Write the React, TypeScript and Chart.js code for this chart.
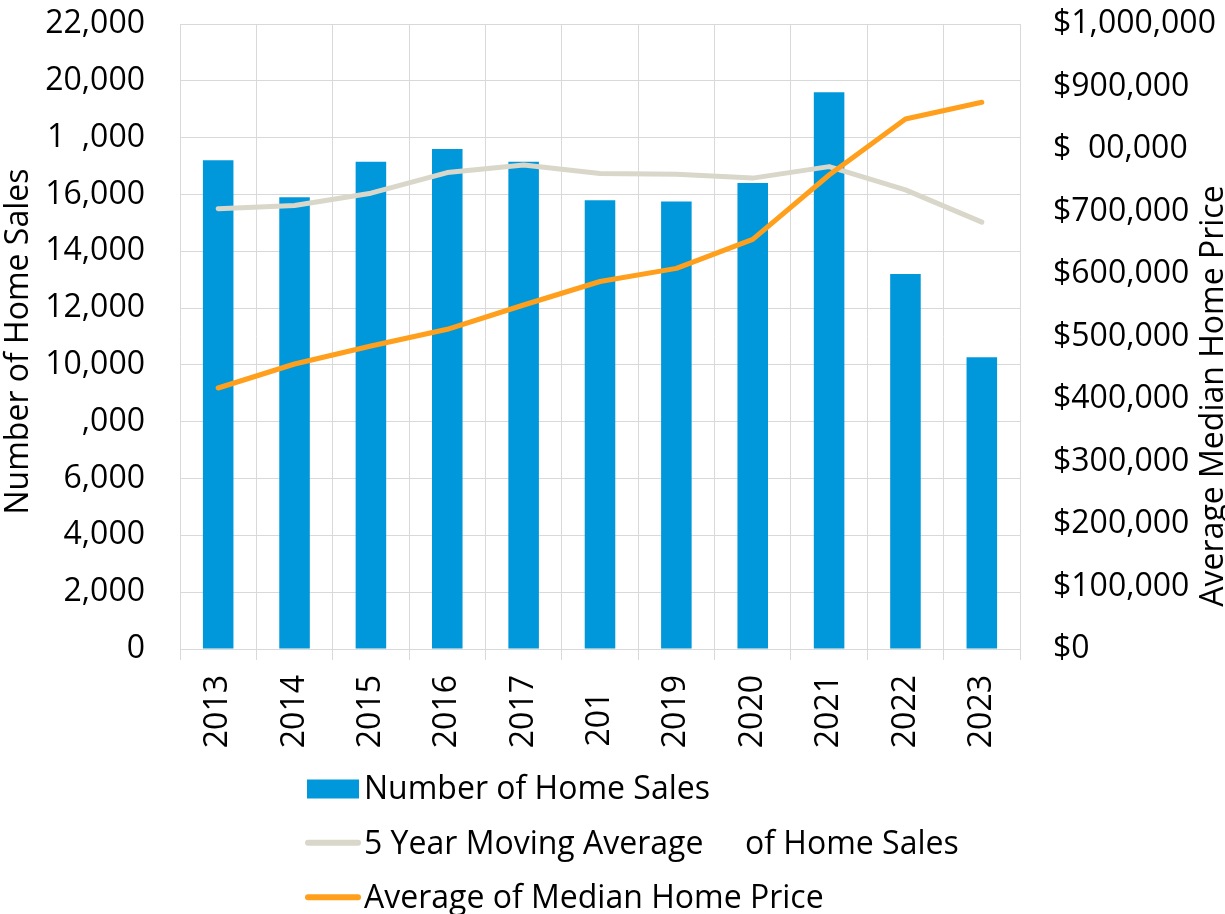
import React, { useEffect, useRef } from "react";
import { Chart, registerables } from "chart.js";

Chart.register(...registerables);

// ---- data ----
const years = ["2013", "2014", "2015", "2016", "2017", "201  ", "2019", "2020", "2021", "2022", "2023"];
const homeSales = [17200, 15900, 17150, 17600, 17150, 15800, 15750, 16400, 19600, 13200, 10270];
const movingAverage = [15500, 15610, 16045, 16770, 17040, 16740, 16715, 16575, 16980, 16160, 15025];
const medianPrice = [417600, 456000, 484800, 511500, 550400, 588000, 609000, 655500, 758400, 848000, 874700];

const leftTickLabels = ["0", "2,000", "4,000", "6,000", ",000", "10,000", "12,000", "14,000", "16,000", "1  ,000", "20,000", "22,000"];
const rightTickLabels = ["$0", "$100,000", "$200,000", "$300,000", "$400,000", "$500,000", "$600,000", "$700,000", "$  00,000", "$900,000", "$1,000,000"];

const seriesNames = ["Number of Home Sales", "5 Year Moving Average     of Home Sales", "Average of Median Home Price"];
const leftTitle = "Number of Home Sales";
const rightTitle = "Average Median Home Price";

// ---- styles ----
const FONT_FAMILY = "'Open Sans', 'Noto Sans', sans-serif";
const FONT_SIZE = 32;
const BLUE = "#0098DA";
const GREY = "#D9D6CA";
const ORANGE = "#FF9F1C";
const GRID = "#D9D9D9";
const TEXT = "#000000";

const overlayPlugin = {
  id: "overlayText",
  afterDraw(chart: any) {
    const ctx = chart.ctx as CanvasRenderingContext2D;
    ctx.save();
    ctx.font = `${FONT_SIZE}px ${FONT_FAMILY}`;
    ctx.fillStyle = TEXT;
    ctx.textBaseline = "alphabetic";

    // axis titles (rotated, reading bottom to top)
    ctx.textAlign = "center";
    ctx.save();
    ctx.translate(27.5, 341.5);
    ctx.rotate(-Math.PI / 2);
    ctx.fillText(leftTitle, 0, 0);
    ctx.restore();

    ctx.save();
    ctx.translate(1223, 396);
    ctx.rotate(-Math.PI / 2);
    ctx.fillText(rightTitle, 0, 0);
    ctx.restore();

    // legend
    const baselines = [799.3, 853.6, 907.9];
    const textX = 364;
    ctx.textAlign = "left";
    ctx.fillStyle = BLUE;
    ctx.fillRect(307, 779.5, 52, 19);
    ctx.lineCap = "round";
    ctx.lineWidth = 6;
    ctx.strokeStyle = GREY;
    ctx.beginPath();
    ctx.moveTo(308, 842.7);
    ctx.lineTo(358, 842.7);
    ctx.stroke();
    ctx.strokeStyle = ORANGE;
    ctx.beginPath();
    ctx.moveTo(308, 897.3);
    ctx.lineTo(358, 897.3);
    ctx.stroke();

    ctx.fillStyle = TEXT;
    seriesNames.forEach((name, i) => {
      ctx.fillText(name, textX, baselines[i]);
    });
    ctx.restore();
  },
};

export default function App() {
  const canvasRef = useRef<HTMLCanvasElement | null>(null);

  useEffect(() => {
    const canvas = canvasRef.current;
    if (!canvas) return;
    const font = { family: FONT_FAMILY, size: FONT_SIZE };

    const chart = new Chart(canvas, {
      type: "bar",
      data: {
        labels: years,
        datasets: [
          {
            type: "bar",
            label: seriesNames[0],
            data: homeSales,
            backgroundColor: BLUE,
            borderWidth: 0,
            barPercentage: 0.4,
            categoryPercentage: 1.0,
            yAxisID: "y",
            order: 3,
          },
          {
            type: "line",
            label: seriesNames[1],
            data: movingAverage,
            borderColor: GREY,
            backgroundColor: GREY,
            borderWidth: 5,
            pointRadius: 0,
            borderCapStyle: "round",
            borderJoinStyle: "round",
            tension: 0,
            yAxisID: "y",
            order: 2,
          },
          {
            type: "line",
            label: seriesNames[2],
            data: medianPrice,
            borderColor: ORANGE,
            backgroundColor: ORANGE,
            borderWidth: 5,
            pointRadius: 0,
            borderCapStyle: "round",
            borderJoinStyle: "round",
            tension: 0,
            yAxisID: "y1",
            order: 1,
          },
        ] as any,
      },
      options: {
        responsive: false,
        animation: false,
        devicePixelRatio: 1,
        layout: { padding: { top: 24, left: 0, right: 0, bottom: 0 } },
        plugins: {
          legend: { display: false },
          tooltip: { enabled: false },
          title: { display: false },
        },
        scales: {
          x: {
            type: "category",
            offset: true,
            grid: {
              offset: true,
              color: GRID,
              lineWidth: 1,
              tickLength: 11,
              drawTicks: true,
              tickColor: GRID,
            },
            border: { color: GRID, width: 1 },
            ticks: {
              minRotation: 90,
              maxRotation: 90,
              autoSkip: false,
              padding: 15,
              color: TEXT,
              font,
            },
            afterFit: (scale: any) => {
              scale.height = 914 - 649;
              scale.paddingLeft = 0;
              scale.paddingRight = 0;
            },
          },
          y: {
            type: "linear",
            position: "left",
            min: 0,
            max: 22000,
            grid: { color: GRID, lineWidth: 1, drawTicks: false },
            border: { display: false },
            ticks: {
              stepSize: 2000,
              padding: 35,
              color: TEXT,
              font,
              callback: (value: any) => leftTickLabels[Math.round(Number(value) / 2000)],
            },
            afterFit: (scale: any) => {
              scale.width = 180;
              scale.paddingTop = 0;
              scale.paddingBottom = 0;
            },
          },
          y1: {
            type: "linear",
            position: "right",
            min: 0,
            max: 1000000,
            grid: { drawOnChartArea: false, drawTicks: false },
            border: { display: false },
            ticks: {
              stepSize: 100000,
              padding: 33,
              color: TEXT,
              font,
              callback: (value: any) => rightTickLabels[Math.round(Number(value) / 100000)],
            },
            afterFit: (scale: any) => {
              scale.width = 1225 - 1020;
              scale.paddingTop = 0;
              scale.paddingBottom = 0;
            },
          },
        },
      } as any,
      plugins: [overlayPlugin],
    });

    return () => {
      chart.destroy();
    };
  }, []);

  return (
    <div style={{ position: "absolute", left: 0, top: 0, width: 1225, height: 914, background: "#ffffff" }}>
      <canvas ref={canvasRef} width={1225} height={914} style={{ width: 1225, height: 914, display: "block" }} />
    </div>
  );
}
